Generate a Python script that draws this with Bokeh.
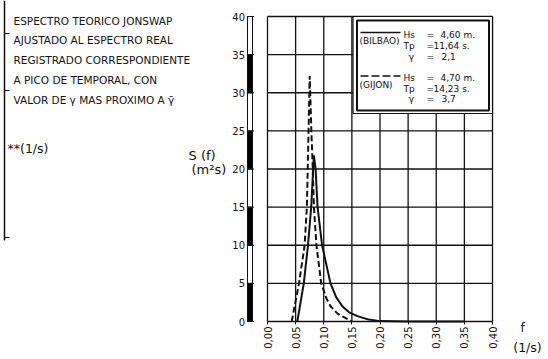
import math
from bokeh.plotting import figure
from bokeh.models import Range1d, FixedTicker, Label
from bokeh.embed import file_html
from bokeh.resources import INLINE

# ---------------- data ----------------
x_ticks = [0.00, 0.05, 0.10, 0.15, 0.20, 0.25, 0.30, 0.35, 0.40]
x_tick_labels = ["0,00", "0,05", "0,10", "0,15", "0,20", "0,25", "0,30", "0,35", "0,40"]
y_ticks = [0, 5, 10, 15, 20, 25, 30, 35, 40]

# BILBAO (solid): Hs 4,60 m, Tp 11,64 s, gamma 2,1
bilbao_f = [0.053, 0.0645, 0.072, 0.0777, 0.0824, 0.0855, 0.089, 0.097, 0.112,
            0.122, 0.133, 0.145, 0.160, 0.180, 0.200, 0.250, 0.300, 0.350]
bilbao_s = [0, 5, 10, 15, 21.8, 20, 15, 10, 5,
            3.2, 2.0, 1.2, 0.7, 0.25, 0.05, 0, 0, 0]

# GIJON (dashed): Hs 4,70 m, Tp 14,23 s, gamma 3,7
gijon_f = [0.043, 0.056, 0.066, 0.070, 0.0715, 0.073, 0.075, 0.078, 0.0805,
           0.0825, 0.087, 0.0955, 0.105, 0.112, 0.125, 0.135, 0.150]
gijon_s = [0, 5, 10, 15, 20, 25, 32.2, 25, 20,
           15, 10, 5, 3.0, 2.0, 1.0, 0.6, 0]

note_lines = ["ESPECTRO TEORICO JONSWAP",
              "AJUSTADO AL ESPECTRO REAL",
              "REGISTRADO CORRESPONDIENTE",
              "A PICO DE TEMPORAL, CON",
              "VALOR DE γ MAS PROXIMO A γ̄"]

# ---------------- layout helpers ----------------
W, H = 548, 359
X0_PX, X1_PX = 267.0, 492.0      # pixel of f=0 and f=0.40
Y0_PX, Y1_PX = 321.0, 16.0       # pixel of S=0 and S=40
XS = (X1_PX - X0_PX) / 0.40
YS = (Y0_PX - Y1_PX) / 40.0
AXIS_PX = 249.5


def px(x):
    return (x - X0_PX) / XS


def py(y):
    return (Y0_PX - y) / YS


FONT = "DejaVu Sans"
INK = "#111111"

p = figure(output_backend="svg", toolbar_location=None,
           x_range=Range1d(px(0), px(W)), y_range=Range1d(py(H), py(0)),
           min_border_left=0, min_border_right=0, min_border_top=0, min_border_bottom=0,
           outline_line_color=None, background_fill_color="white",
           border_fill_color="white")
p.frame_width = W
p.frame_height = H
p.xgrid.visible = False
p.ygrid.visible = False

# x axis, drawn at S = 0
p.xaxis.fixed_location = 0
p.xaxis.ticker = FixedTicker(ticks=x_ticks)
p.xaxis.major_label_overrides = {t: l for t, l in zip(x_ticks, x_tick_labels)}
p.xaxis.major_label_orientation = math.pi / 2
p.xaxis.axis_line_color = None
p.xaxis.major_tick_in = 0
p.xaxis.major_tick_out = 3
p.xaxis.major_tick_line_color = INK
p.xaxis.minor_tick_line_color = None
p.xaxis.major_label_standoff = 2
p.xaxis.major_label_text_font = FONT
p.xaxis.major_label_text_font_size = "10px"
p.xaxis.major_label_text_color = INK

# y axis, drawn left of the grid
p.yaxis.fixed_location = px(AXIS_PX)
p.yaxis.ticker = FixedTicker(ticks=y_ticks)
p.yaxis.axis_line_color = None
p.yaxis.major_tick_in = 0
p.yaxis.major_tick_out = 0
p.yaxis.minor_tick_line_color = None
p.yaxis.major_label_standoff = 5
p.yaxis.major_label_text_font = FONT
p.yaxis.major_label_text_font_size = "10px"
p.yaxis.major_label_text_color = INK

# grid lines (0..0.40 x 0..40)
p.segment(x0=[0.0] * len(y_ticks), x1=[0.40] * len(y_ticks), y0=y_ticks, y1=y_ticks,
          line_color=INK, line_width=1.3)
p.segment(x0=x_ticks, x1=x_ticks, y0=[0] * len(x_ticks), y1=[40] * len(x_ticks),
          line_color=INK, line_width=1.3)

# alternating black/white bar on the y axis
bar_l = px(AXIS_PX - 2.5)
bar_r = px(AXIS_PX + 2.5)
bot = y_ticks[:-1]
top = y_ticks[1:]
fills = ["black" if i % 2 == 0 else "white" for i in range(len(bot))]
p.quad(left=[bar_l] * len(bot), right=[bar_r] * len(bot), bottom=bot, top=top,
       fill_color=fills, line_color=INK, line_width=1)
p.segment(x0=[px(AXIS_PX - 3)] * len(y_ticks), x1=[px(AXIS_PX + 4)] * len(y_ticks),
          y0=y_ticks, y1=y_ticks, line_color=INK, line_width=1)

# page border on the far left
p.segment(x0=[px(4)], x1=[px(4)], y0=[py(0)], y1=[py(240)], line_color=INK, line_width=1.5)
p.segment(x0=[px(4), px(4), px(4)], x1=[px(9), px(9), px(9)],
          y0=[py(33), py(90), py(237)], y1=[py(33), py(90), py(237)],
          line_color=INK, line_width=1)

# curves
p.line(bilbao_f, bilbao_s, line_color=INK, line_width=2)
p.line(gijon_f, gijon_s, line_color=INK, line_width=2, line_dash="6 3")

# legend box (white, double border)
p.quad(left=px(352.5), right=px(492), bottom=py(113), top=40,
       fill_color="white", line_color=INK, line_width=1.2)
p.quad(left=px(356.5), right=px(488.5), bottom=py(110), top=py(20),
       fill_color="white", line_color=INK, line_width=2)
p.line([px(360), px(400)], [py(32), py(32)], line_color=INK, line_width=1.5)
p.line([px(360), px(400)], [py(75.5), py(75.5)], line_color=INK, line_width=1.5,
       line_dash="8 3")


def lab(text, x, y, size="9px", align="left", baseline="middle", angle=0):
    p.add_layout(Label(x=px(x), y=py(y), text=text, text_font=FONT,
                       text_font_size=size, text_color=INK, text_align=align,
                       text_baseline=baseline, angle=angle))


# legend texts
LS = "9px"
lab("(BILBAO)", 359, 40, LS)
lab("Hs", 403, 34, LS)
lab("Tp", 403, 45.5, LS)
lab("γ", 408, 56, "9.5px")
lab("=", 426, 34, LS)
lab("=", 426, 45.5, LS)
lab("=", 426, 56, LS)
lab("4,60 m.", 440, 34, LS)
lab("11,64 s.", 433, 45.5, LS)
lab("2,1", 441, 56, LS)

lab("(GIJON)", 359, 84, LS)
lab("Hs", 403, 77, LS)
lab("Tp", 403, 88, LS)
lab("γ", 408, 98, "9.5px")
lab("=", 426, 77, LS)
lab("=", 426, 88, LS)
lab("=", 426, 98, LS)
lab("4,70 m.", 440, 77, LS)
lab("14,23 s.", 433, 88, LS)
lab("3,7", 441, 98, LS)

# left note
for i, t in enumerate(note_lines):
    lab(t, 13, 20 + i * 19.8, "10.5px")
lab("**(1/s)", 7, 148, "12.5px")

# axis titles
lab("S (f)", 188, 155, "13px")
lab("(m²s)", 191, 169, "13px")
lab("f", 522, 327, "12px", align="center")
lab("(1/s)", 527, 347, "12.5px", align="center")

open("out.html", "w").write(file_html(p, INLINE))
